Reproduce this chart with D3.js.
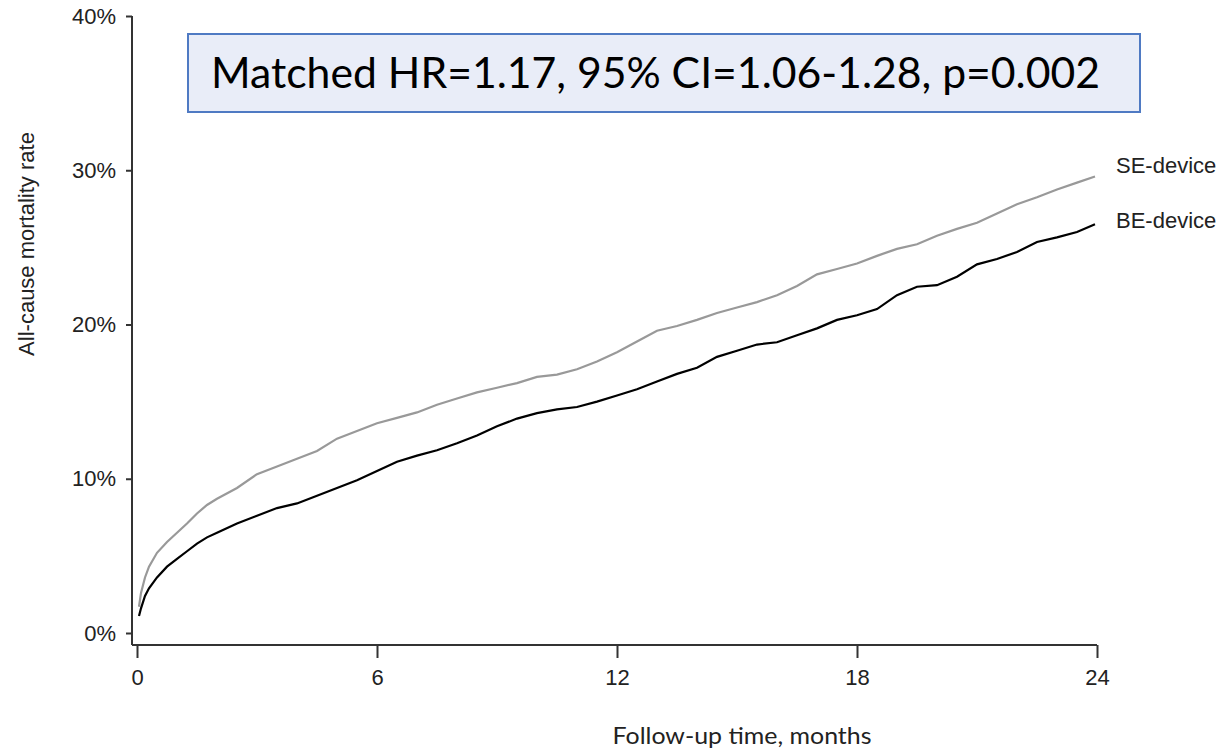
<!DOCTYPE html>
<html>
<head>
<meta charset="utf-8">
<script src="https://d3js.org/d3.v7.min.js"></script>
<title>All-cause mortality</title>
<style>
  body { margin: 0; background: #fff; }
  svg { display: block; }
</style>
</head>
<body>
<svg id="chart" width="1225" height="750"></svg>
<script>
// follow-up months and cumulative mortality (%)
const months = [0.05, 0.1, 0.2, 0.3, 0.5, 0.75, 1, 1.25, 1.5, 1.75, 2, 2.5, 3, 3.5, 4, 4.5, 5, 5.5,
  6, 6.5, 7, 7.5, 8, 8.5, 9, 9.5, 10, 10.5, 11, 11.5, 12, 12.5, 13, 13.5, 14, 14.5, 15, 15.5,
  16, 16.5, 17, 17.5, 18, 18.5, 19, 19.5, 20, 20.5, 21, 21.5, 22, 22.5, 23, 23.5, 23.95];
const seDevice = [1.7, 2.6, 3.6, 4.3, 5.2, 5.9, 6.5, 7.1, 7.75, 8.3, 8.7, 9.4, 10.3, 10.8, 11.3, 11.8, 12.6, 13.1,
  13.6, 13.95, 14.3, 14.8, 15.2, 15.6, 15.9, 16.2, 16.6, 16.75, 17.1, 17.6, 18.2, 18.9, 19.6, 19.9, 20.3, 20.75, 21.1, 21.45,
  21.9, 22.5, 23.25, 23.6, 23.95, 24.45, 24.9, 25.2, 25.75, 26.2, 26.6, 27.2, 27.8, 28.25, 28.75, 29.2, 29.6];
const beDevice = [1.1, 1.6, 2.4, 2.9, 3.6, 4.3, 4.8, 5.3, 5.8, 6.2, 6.5, 7.1, 7.6, 8.1, 8.4, 8.9, 9.4, 9.9,
  10.5, 11.1, 11.5, 11.85, 12.3, 12.8, 13.4, 13.9, 14.25, 14.5, 14.65, 15.0, 15.4, 15.8, 16.3, 16.8, 17.2, 17.9, 18.3, 18.7,
  18.85, 19.3, 19.75, 20.3, 20.6, 21.0, 21.9, 22.45, 22.55, 23.1, 23.9, 24.25, 24.7, 25.35, 25.65, 26.0, 26.5];
const xTicks = [0, 6, 12, 18, 24];
const yTicks = [0, 10, 20, 30, 40];
const seriesNames = ["SE-device", "BE-device"];
const annotation = "Matched HR=1.17, 95% CI=1.06-1.28, p=0.002";

const svg = d3.select("svg#chart");
const arial = "Arial, 'Liberation Sans', sans-serif";

const x = d3.scaleLinear().domain([0, 24]).range([137, 1097]);
const y = d3.scaleLinear().domain([0, 40]).range([633, 16]);

// axes
const axisColor = "#333";
svg.append("line")
   .attr("x1", 132).attr("x2", 132)
   .attr("y1", y(40)).attr("y2", 645)
   .attr("stroke", axisColor).attr("stroke-width", 2);
svg.append("line")
   .attr("x1", 132).attr("x2", x(24))
   .attr("y1", 645).attr("y2", 645)
   .attr("stroke", axisColor).attr("stroke-width", 2);

const yAxis = svg.append("g")
   .attr("transform", "translate(132,0)")
   .call(d3.axisLeft(y).tickValues(yTicks).tickSize(6).tickPadding(10).tickFormat(d => d + "%"));
yAxis.select(".domain").remove();
yAxis.selectAll(".tick line").attr("stroke", axisColor).attr("stroke-width", 2);
yAxis.selectAll(".tick text")
     .attr("font-family", arial).attr("font-size", 22).attr("fill", "#222");

const xAxis = svg.append("g")
   .attr("transform", "translate(0,645)")
   .call(d3.axisBottom(x).tickValues(xTicks).tickSize(13).tickPadding(11));
xAxis.select(".domain").remove();
xAxis.selectAll(".tick line").attr("stroke", axisColor).attr("stroke-width", 2);
xAxis.selectAll(".tick text")
     .attr("font-family", arial).attr("font-size", 22).attr("fill", "#222");

// axis titles
svg.append("text")
   .attr("transform", "translate(34,244) rotate(-90)")
   .attr("text-anchor", "middle")
   .attr("font-family", arial).attr("font-size", 22).attr("fill", "#222")
   .text("All-cause mortality rate");

svg.append("text")
   .attr("x", 742).attr("y", 744)
   .attr("text-anchor", "middle")
   .attr("font-family", "Lato, 'Open Sans', sans-serif").attr("font-size", 24).attr("fill", "#222")
   .attr("textLength", 259).attr("lengthAdjust", "spacingAndGlyphs")
   .text("Follow-up time, months");

// curves
const line = d3.line()
   .x(d => x(d[0]))
   .y(d => y(d[1]))
   .curve(d3.curveLinear);

const series = [
  {name: seriesNames[0], values: seDevice, color: "#999", dy: -9},
  {name: seriesNames[1], values: beDevice, color: "#000", dy: -2}
];

series.forEach(s => {
  const pts = months.map((m, i) => [m, s.values[i]]);
  svg.append("path")
     .attr("d", line(pts))
     .attr("fill", "none")
     .attr("stroke", s.color)
     .attr("stroke-width", 2.2)
     .attr("stroke-linejoin", "miter");
  svg.append("text")
     .attr("x", 1116)
     .attr("y", y(s.values[s.values.length - 1]) + s.dy)
     .attr("dominant-baseline", "middle")
     .attr("font-family", arial).attr("font-size", 22).attr("fill", "#222")
     .text(s.name);
});

// annotation box
svg.append("rect")
   .attr("x", 188).attr("y", 34)
   .attr("width", 952).attr("height", 78)
   .attr("fill", "#e9edf8")
   .attr("stroke", "#4f7ac3").attr("stroke-width", 2);
svg.append("text")
   .attr("x", 211).attr("y", 88)
   .attr("font-family", "Lato, 'Open Sans', sans-serif").attr("font-size", 43).attr("fill", "#000")
   .attr("textLength", 889).attr("lengthAdjust", "spacingAndGlyphs")
   .text(annotation);
</script>
</body>
</html>
